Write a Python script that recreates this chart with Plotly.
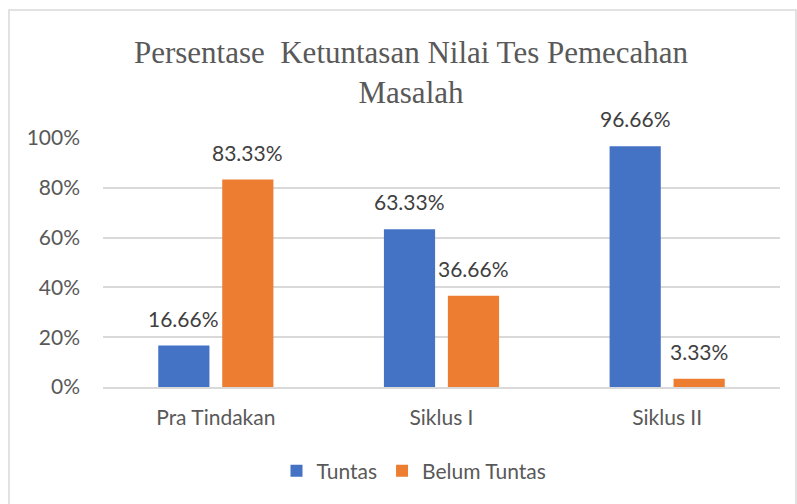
import plotly.graph_objects as go

categories = ["Pra Tindakan", "Siklus I", "Siklus II"]
tuntas = [16.66, 63.33, 96.66]
belum_tuntas = [83.33, 36.66, 3.33]
series_names = ["Tuntas", "Belum Tuntas"]
y_tick_vals = [0, 20, 40, 60, 80, 100]
y_tick_text = ["0%", "20%", "40%", "60%", "80%", "100%"]

W, H = 797, 504
ML, MR, MT, MB = 103, 17, 138, 117
BARGAP = 0.433
BARGROUPGAP = 0.2
BLUE = "#4472C4"
ORANGE = "#ED7D31"
LABEL_FONT = "Lato, 'Open Sans', sans-serif"

fig = go.Figure()
fig.add_trace(go.Bar(x=categories, y=tuntas, name=series_names[0],
                     marker=dict(color=BLUE, line=dict(width=0))))
fig.add_trace(go.Bar(x=categories, y=belum_tuntas, name=series_names[1],
                     marker=dict(color=ORANGE, line=dict(width=0))))

# data labels
plot_w = W - ML - MR
plot_h = H - MT - MB
cat_w = plot_w / len(categories)
slot = cat_w * (1 - BARGAP) / 2
for vals, sign in ((tuntas, -1), (belum_tuntas, 1)):
    for c, v in zip(categories, vals):
        fig.add_annotation(x=c, y=v, text=f"{v:.2f}%", showarrow=False,
                           xshift=sign * slot / 2, yshift=13, yanchor="bottom",
                           font=dict(family=LABEL_FONT, size=21, color="#404040"))

fig.update_layout(
    width=W, height=H,
    margin=dict(l=ML, r=MR, t=MT, b=MB),
    paper_bgcolor="white", plot_bgcolor="white",
    barmode="group", bargap=BARGAP, bargroupgap=BARGROUPGAP,
    title=dict(text="Persentase  Ketuntasan Nilai Tes Pemecahan<br>Masalah",
               x=411 / W, xanchor="center", xref="container",
               y=1 - 63 / H, yanchor="top", yref="container",
               font=dict(family="'Liberation Serif', 'Times New Roman', serif",
                         size=31, color="#595959")),
    legend=dict(orientation="h", xref="container", yref="container",
                x=414 / W, xanchor="center", y=1 - 471 / H, yanchor="middle",
                font=dict(family=LABEL_FONT, size=21, color="#595959"),
                itemclick=False),
    showlegend=True,
    shapes=[dict(type="rect", xref="paper", yref="paper",
                 x0=(9 - ML) / plot_w, x1=(796 - ML) / plot_w,
                 y0=-(MB + 20) / plot_h,
                 y1=1 + (MT - 10) / plot_h,
                 line=dict(color="#D9D9D9", width=1.5), layer="below")],
)
fig.update_yaxes(range=[0, 100], tickvals=y_tick_vals, ticktext=y_tick_text,
                 showgrid=True, gridcolor="#D9D9D9", gridwidth=1.5,
                 zeroline=False, showline=False, ticks="",
                 ticklabelstandoff=22,
                 tickfont=dict(family=LABEL_FONT, size=21, color="#595959"))
fig.update_xaxes(showline=True, linecolor="#D9D9D9", linewidth=1.5,
                 ticks="", ticklabelstandoff=11,
                 tickfont=dict(family=LABEL_FONT, size=21, color="#595959"))

fig.write_html("out.html", config={"displayModeBar": False},
               post_script="document.body.style.margin='0';document.body.style.padding='0';")
